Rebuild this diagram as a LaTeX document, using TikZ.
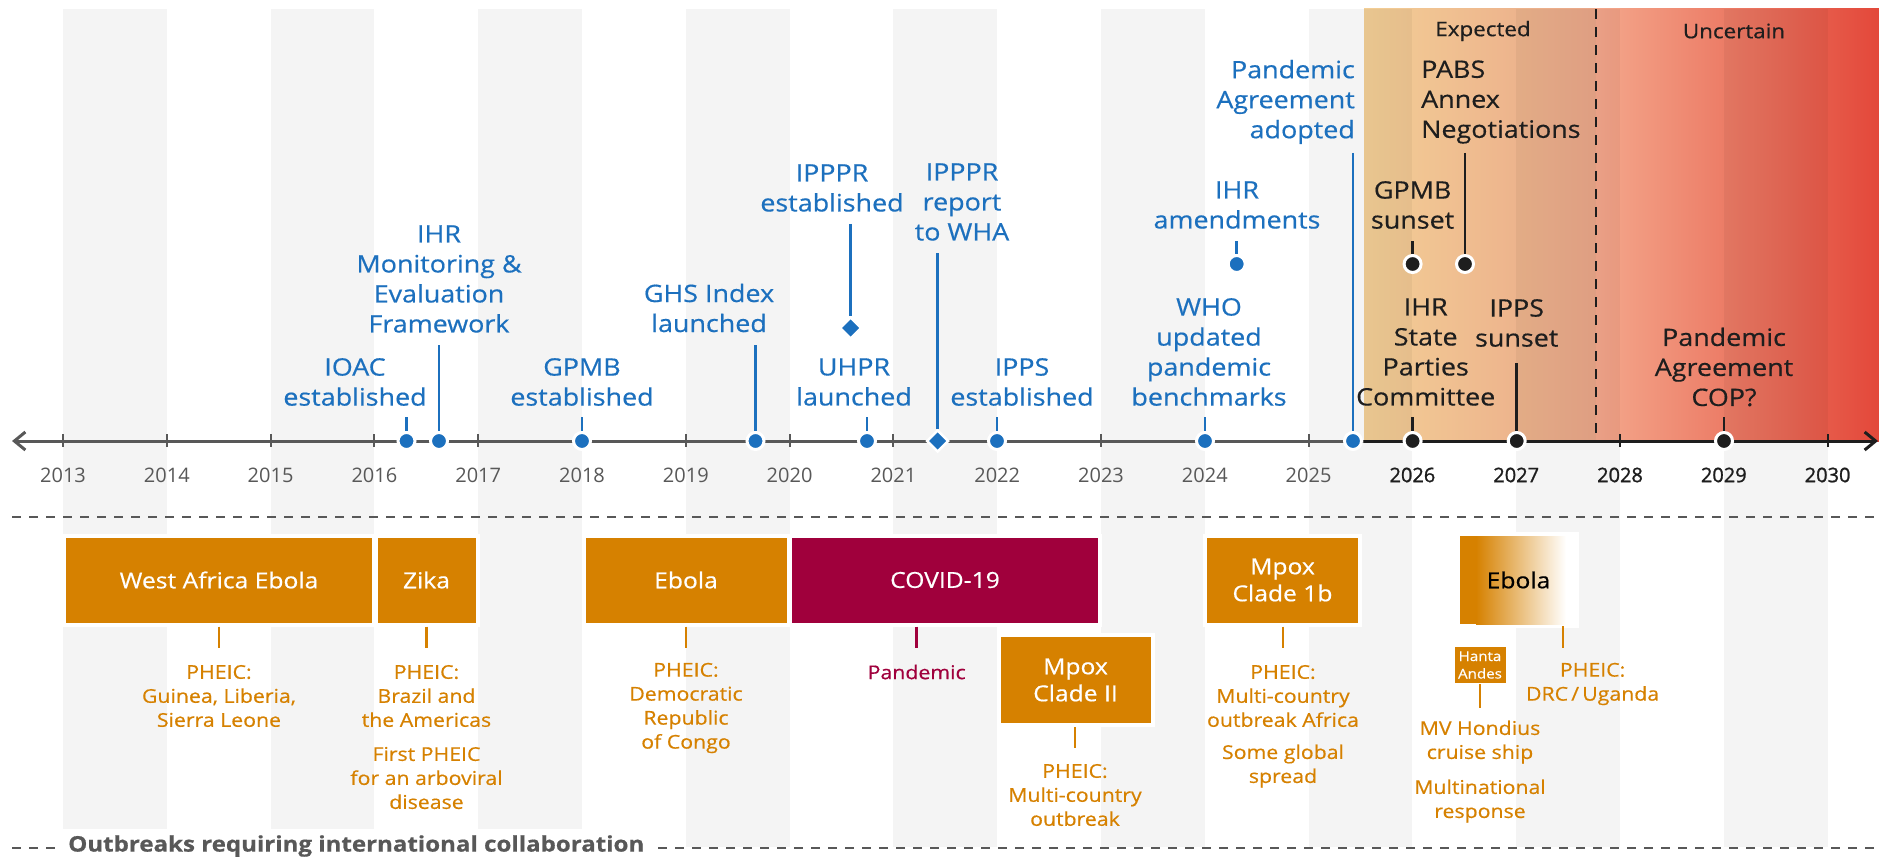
\documentclass[tikz,border=0pt]{standalone}
\usepackage{fontspec}
\setmainfont[FakeStretch=1.12, FakeBold=0.5]{Open Sans}
\newfontfamily\yrfont{Open Sans}
\newfontfamily\yrboldfont[FakeBold=1.2]{Open Sans}
\usetikzlibrary{arrows.meta,shapes.geometric}

\definecolor{evblue}{RGB}{28,112,190}
\definecolor{outorange}{RGB}{214,129,0}
\definecolor{covred}{RGB}{160,0,60}
\definecolor{axisgray}{RGB}{88,88,88}
\definecolor{futblack}{RGB}{30,30,30}
\definecolor{gradA}{RGB}{243,207,150}
\definecolor{gradM}{RGB}{250,204,150}
\definecolor{gradB}{RGB}{234,166,136}
\definecolor{gradC}{RGB}{244,168,140}
\definecolor{gradD}{RGB}{227,72,58}

\tikzset{
  evtxt/.style={text=evblue, align=center, inner sep=0pt, font=\fontsize{24}{30}\selectfont},
  futtxt/.style={evtxt, text=futblack},
  evdot/.style={circle, fill=evblue, draw=white, line width=3pt, minimum size=17pt, inner sep=0pt},
  futdot/.style={evdot, fill=futblack},
  evdiam/.style={diamond, aspect=1, fill=evblue, draw=white, line width=2.5pt, minimum size=22pt, inner sep=0pt},
  evstem/.style={evblue, line width=2.5pt},
  futstem/.style={futblack, line width=2.5pt},
  yrtxt/.style={text=axisgray, inner sep=0pt, font=\yrfont\fontsize{20}{24}\selectfont},
  obox/.style={rectangle, fill=outorange, draw=white, line width=4pt, text=white, align=center, inner sep=0pt, font=\fontsize{22}{27}\selectfont},
  otxt/.style={text=outorange, align=center, inner sep=0pt, font=\fontsize{19}{24}\selectfont},
  ostem/.style={outorange, line width=2.5pt},
  sepline/.style={axisgray, line width=1.5pt, dash pattern=on 9pt off 8pt},
}

\begin{document}
\begin{tikzpicture}[x=1pt,y=-1pt]
\useasboundingbox (0,0) rectangle (1879,861);
\fill[white] (0,0) rectangle (1879,861);

% outlook shading
\shade[left color=gradA, middle color=gradM, right color=gradB] (1364,9) rectangle (1596,441);
\shade[left color=gradC, right color=gradD] (1596,9) rectangle (1879,441);

% year columns
\foreach \i in {0,2,...,16}
  \fill[black, fill opacity=0.045] ({63+\i*103.8},9) rectangle ++(103.8,838);

\draw[futblack, line width=1.3pt, dash pattern=on 10pt off 8pt] (1596,9) -- (1596,441);
\node[futtxt, font=\fontsize{20}{22}\selectfont] (expected) at (1483,31) {Expected};
\node[futtxt, font=\fontsize{20}{22}\selectfont] (uncertain) at (1734,31) {Uncertain};

% axis
\draw[axisgray, line width=3pt, {Straight Barb[length=11pt,width=18pt]}-] (12,441) -- (1364,441);
\draw[futblack, line width=3pt, -{Straight Barb[length=11pt,width=18pt]}] (1364,441) -- (1878,441);
\foreach \yr [count=\i from 0] in {2013,...,2025} {
  \draw[axisgray, line width=2pt] ({63+\i*103.8},434) -- ++(0,13);
  \node[yrtxt] (y\yr) at ({63+\i*103.8},475) {\yr};
}
\foreach \yr [count=\i from 13] in {2026,...,2030} {
  \draw[futblack, line width=2pt] ({63+\i*103.8},434) -- ++(0,13);
  \node[yrtxt, text=futblack, font=\yrboldfont\fontsize{20}{24}\selectfont] (y\yr) at ({63+\i*103.8},475) {\yr};
}

% milestones so far
\node[evtxt] (ioac-l) at (355,382) {IOAC\\established};
\node[evdot] (ioac) at (406.5,441) {};
\coordinate (ioac-s) at (406.5,417);
\draw[evstem] (ioac-s) -- (ioac);

\node[evtxt] (ihrme-l) at (439,279) {IHR\\Monitoring \&\\Evaluation\\Framework};
\node[evdot] (ihrme) at (439,441) {};
\coordinate (ihrme-s) at (439,345);
\draw[evstem] (ihrme-s) -- (ihrme);

\node[evtxt] (gpmb-l) at (582,382) {GPMB\\established};
\node[evdot] (gpmb) at (582,441) {};
\coordinate (gpmb-s) at (582,417);
\draw[evstem] (gpmb-s) -- (gpmb);

\node[evtxt] (ghs-l) at (709,308) {GHS Index\\launched};
\node[evdot] (ghs) at (755.5,441) {};
\coordinate (ghs-s) at (755.5,345);
\draw[evstem] (ghs-s) -- (ghs);

\node[evtxt] (ipppr-l) at (832,188) {IPPPR\\established};
\node[evdiam] (ipppr) at (850.6,328) {};
\coordinate (ipppr-s) at (850.6,224);
\draw[evstem] (ipppr-s) -- (ipppr);

\node[evtxt] (uhpr-l) at (854,382) {UHPR\\launched};
\node[evdot] (uhpr) at (867,441) {};
\coordinate (uhpr-s) at (867,417);
\draw[evstem] (uhpr-s) -- (uhpr);

\node[evtxt] (wha-l) at (962,202) {IPPPR\\report\\to WHA};
\node[evdiam] (wha) at (937.6,441) {};
\coordinate (wha-s) at (937.6,253);
\draw[evstem] (wha-s) -- (wha);

\node[evtxt] (ipps-l) at (1022,382) {IPPS\\established};
\node[evdot] (ipps) at (997,441) {};
\coordinate (ipps-s) at (997,417);
\draw[evstem] (ipps-s) -- (ipps);

\node[evtxt] (bench-l) at (1209,352) {WHO\\updated\\pandemic\\benchmarks};
\node[evdot] (bench) at (1205,441) {};
\coordinate (bench-s) at (1205,417);
\draw[evstem] (bench-s) -- (bench);

\node[evtxt] (amend-l) at (1237,205) {IHR\\amendments};
\node[evdot] (amend) at (1236.7,264) {};
\coordinate (amend-s) at (1236.7,241);
\draw[evstem] (amend-s) -- (amend);

\node[evtxt, align=right, anchor=east] (pa-l) at (1355,102) {Pandemic\\Agreement\\adopted};
\node[evdot] (pa) at (1353,441) {};
\coordinate (pa-s) at (1353,153);
\draw[evstem] (pa-s) -- (pa);

% milestones ahead
\node[futtxt] (gpmbend-l) at (1412.6,205) {GPMB\\sunset};
\node[futdot] (gpmbend) at (1412.6,264) {};
\coordinate (gpmbend-s) at (1412.6,241);
\draw[futstem] (gpmbend-s) -- (gpmbend);

\node[futtxt, align=left, anchor=west] (pabs-l) at (1421,102) {PABS\\Annex\\Negotiations};
\node[futdot] (pabs) at (1465,264) {};
\coordinate (pabs-s) at (1465,153);
\draw[futstem] (pabs-s) -- (pabs);

\node[futtxt] (spc-l) at (1425.7,352) {IHR\\State\\Parties\\Committee};
\node[futdot] (spc) at (1412.6,441) {};
\coordinate (spc-s) at (1412.6,417);
\draw[futstem] (spc-s) -- (spc);

\node[futtxt] (ippsend-l) at (1516.7,323) {IPPS\\sunset};
\node[futdot] (ippsend) at (1516.7,441) {};
\coordinate (ippsend-s) at (1516.7,363);
\draw[futstem] (ippsend-s) -- (ippsend);

\node[futtxt] (cop-l) at (1724,367) {Pandemic\\Agreement\\COP?};
\node[futdot] (cop) at (1724,441) {};
\coordinate (cop-s) at (1724,417);
\draw[futstem] (cop-s) -- (cop);

% outbreaks
\draw[sepline] (12,517) -- (1879,517);
\draw[sepline] (12,848) -- (1879,848);

\node[obox, minimum width=310, minimum height=89] (wae) at (219,580) {West Africa Ebola};
\coordinate (wae-s) at (219,648);
\draw[ostem] (wae.south -| wae-s) -- (wae-s);
\node[otxt] (wae-n) at (219,696) {PHEIC:\\Guinea, Liberia,\\Sierra Leone};

\node[obox, minimum width=102, minimum height=89] (zika) at (426.5,580) {Zika};
\coordinate (zika-s) at (426.5,648);
\draw[ostem] (zika.south -| zika-s) -- (zika-s);
\node[otxt] (zika-n) at (426.5,696) {PHEIC:\\Brazil and\\the Americas};
\node[otxt] (zika-n2) at (426.5,778) {First PHEIC\\for an arboviral\\disease};

\node[obox, minimum width=205, minimum height=89] (drc) at (686,580) {Ebola};
\coordinate (drc-s) at (686,648);
\draw[ostem] (drc.south -| drc-s) -- (drc-s);
\node[otxt] (drc-n) at (686,708) {PHEIC:\\Democratic\\Republic\\of Congo};

\node[obox, fill=covred, minimum width=310, minimum height=89] (covid) at (945,580) {COVID-19};
\coordinate (covid-s) at (916.7,648);
\draw[covred, line width=2.5pt] (covid.south -| covid-s) -- (covid-s);
\node[otxt, text=covred] (covid-n) at (916.7,672) {Pandemic};

\node[obox, minimum width=154, minimum height=90] (mpox2) at (1075.5,680) {Mpox\\Clade II};
\coordinate (mpox2-s) at (1075,748);
\draw[ostem] (mpox2.south -| mpox2-s) -- (mpox2-s);
\node[otxt] (mpox2-n) at (1075,795) {PHEIC:\\Multi-country\\outbreak};

\node[obox, minimum width=155, minimum height=89] (mpox1b) at (1282.5,580) {Mpox\\Clade 1b};
\coordinate (mpox1b-s) at (1283,648);
\draw[ostem] (mpox1b.south -| mpox1b-s) -- (mpox1b-s);
\node[otxt] (mpox1b-n) at (1283,696) {PHEIC:\\Multi-country\\outbreak Africa};
\node[otxt] (mpox1b-n2) at (1283,766) {Some global\\spread};

\fill[white] (1456,532) rectangle (1579,628);
\fill[outorange] (1460,536) rectangle (1476,624);
\shade[left color=outorange, right color=white] (1476,536) rectangle (1566,624);
\node[obox, fill=none, draw=none, text=black, minimum width=117, minimum height=88] (ug) at (1518.5,580) {Ebola};
\coordinate (ug-s) at (1563,648);
\draw[ostem] (ug.south -| ug-s) -- (ug-s);
\node[otxt] (ug-n) at (1592.6,684) {PHEIC:\\DRC\,/\,Uganda};

\node[obox, line width=1pt, minimum width=52, minimum height=37, font=\fontsize{13.5}{17.5}\selectfont] (hanta) at (1480,665) {Hanta\\Andes};
\coordinate (hanta-s) at (1480,708);
\draw[ostem] (hanta) -- (hanta-s);
\node[otxt] (hanta-n) at (1480,742) {MV Hondius\\cruise ship};
\node[otxt] (hanta-n2) at (1480,801) {Multinational\\response};

\node[fill=white, anchor=west, text=axisgray, inner xsep=6pt, minimum height=34, font=\bfseries\fontsize{21.5}{27}\selectfont] (collab) at (62,846) {Outbreaks requiring international collaboration};
\end{tikzpicture}
\end{document}
